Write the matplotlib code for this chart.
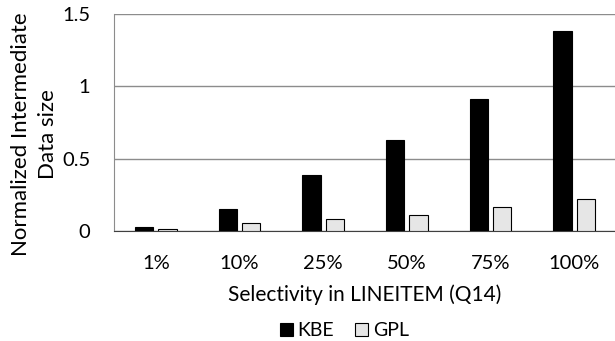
import matplotlib
matplotlib.use("Agg")
import matplotlib.pyplot as plt
import numpy as np

plt.rcParams['font.family'] = ['Lato', 'DejaVu Sans']

categories = ["1%", "10%", "25%", "50%", "75%", "100%"]
kbe = [0.028, 0.15, 0.39, 0.63, 0.91, 1.38]
gpl = [0.012, 0.053, 0.08, 0.113, 0.166, 0.222]

fig = plt.figure(figsize=(6.15, 3.41), dpi=100)
ax = fig.add_axes([114/615, 1 - 231/341, 502/615, 217/341])

x = np.arange(len(categories))
w = 0.22
ax.bar(x - 0.14, kbe, w, color="black", edgecolor="black", linewidth=0.8, label="KBE", zorder=3)
ax.bar(x + 0.14, gpl, w, color="#e6e6e6", edgecolor="black", linewidth=0.8, label="GPL", zorder=3)

ax.set_xlim(-0.5, 5.5)
ax.set_ylim(0, 1.5)
ax.set_yticks([0, 0.5, 1, 1.5])
ax.set_yticklabels(["0", "0.5", "1", "1.5"])
ax.set_xticks(x)
ax.set_xticklabels(categories)
ax.yaxis.grid(True, color="#8c8c8c", linewidth=1)
ax.set_axisbelow(True)
ax.tick_params(axis="both", length=0, labelsize=14.5, colors="black")
ax.tick_params(axis="x", pad=17)
ax.tick_params(axis="y", pad=17)
for s in ["top", "right"]:
    ax.spines[s].set_visible(False)
ax.spines["left"].set_color("#8c8c8c")
ax.spines["bottom"].set_color("#404040")

ax.set_xlabel("Selectivity in LINEITEM (Q14)", fontsize=15, labelpad=9)
ax.set_ylabel("Normalized Intermediate\nData size", fontsize=16, linespacing=1.4)
ax.yaxis.set_label_coords(-0.112, 0.445)

ax.legend(loc="center", bbox_to_anchor=(0.459, -0.46), ncol=2, frameon=False,
          fontsize=14, handlelength=0.65, handleheight=0.65, handletextpad=0.25,
          columnspacing=1.1, borderpad=0)

fig.savefig("out.png", dpi=100)
